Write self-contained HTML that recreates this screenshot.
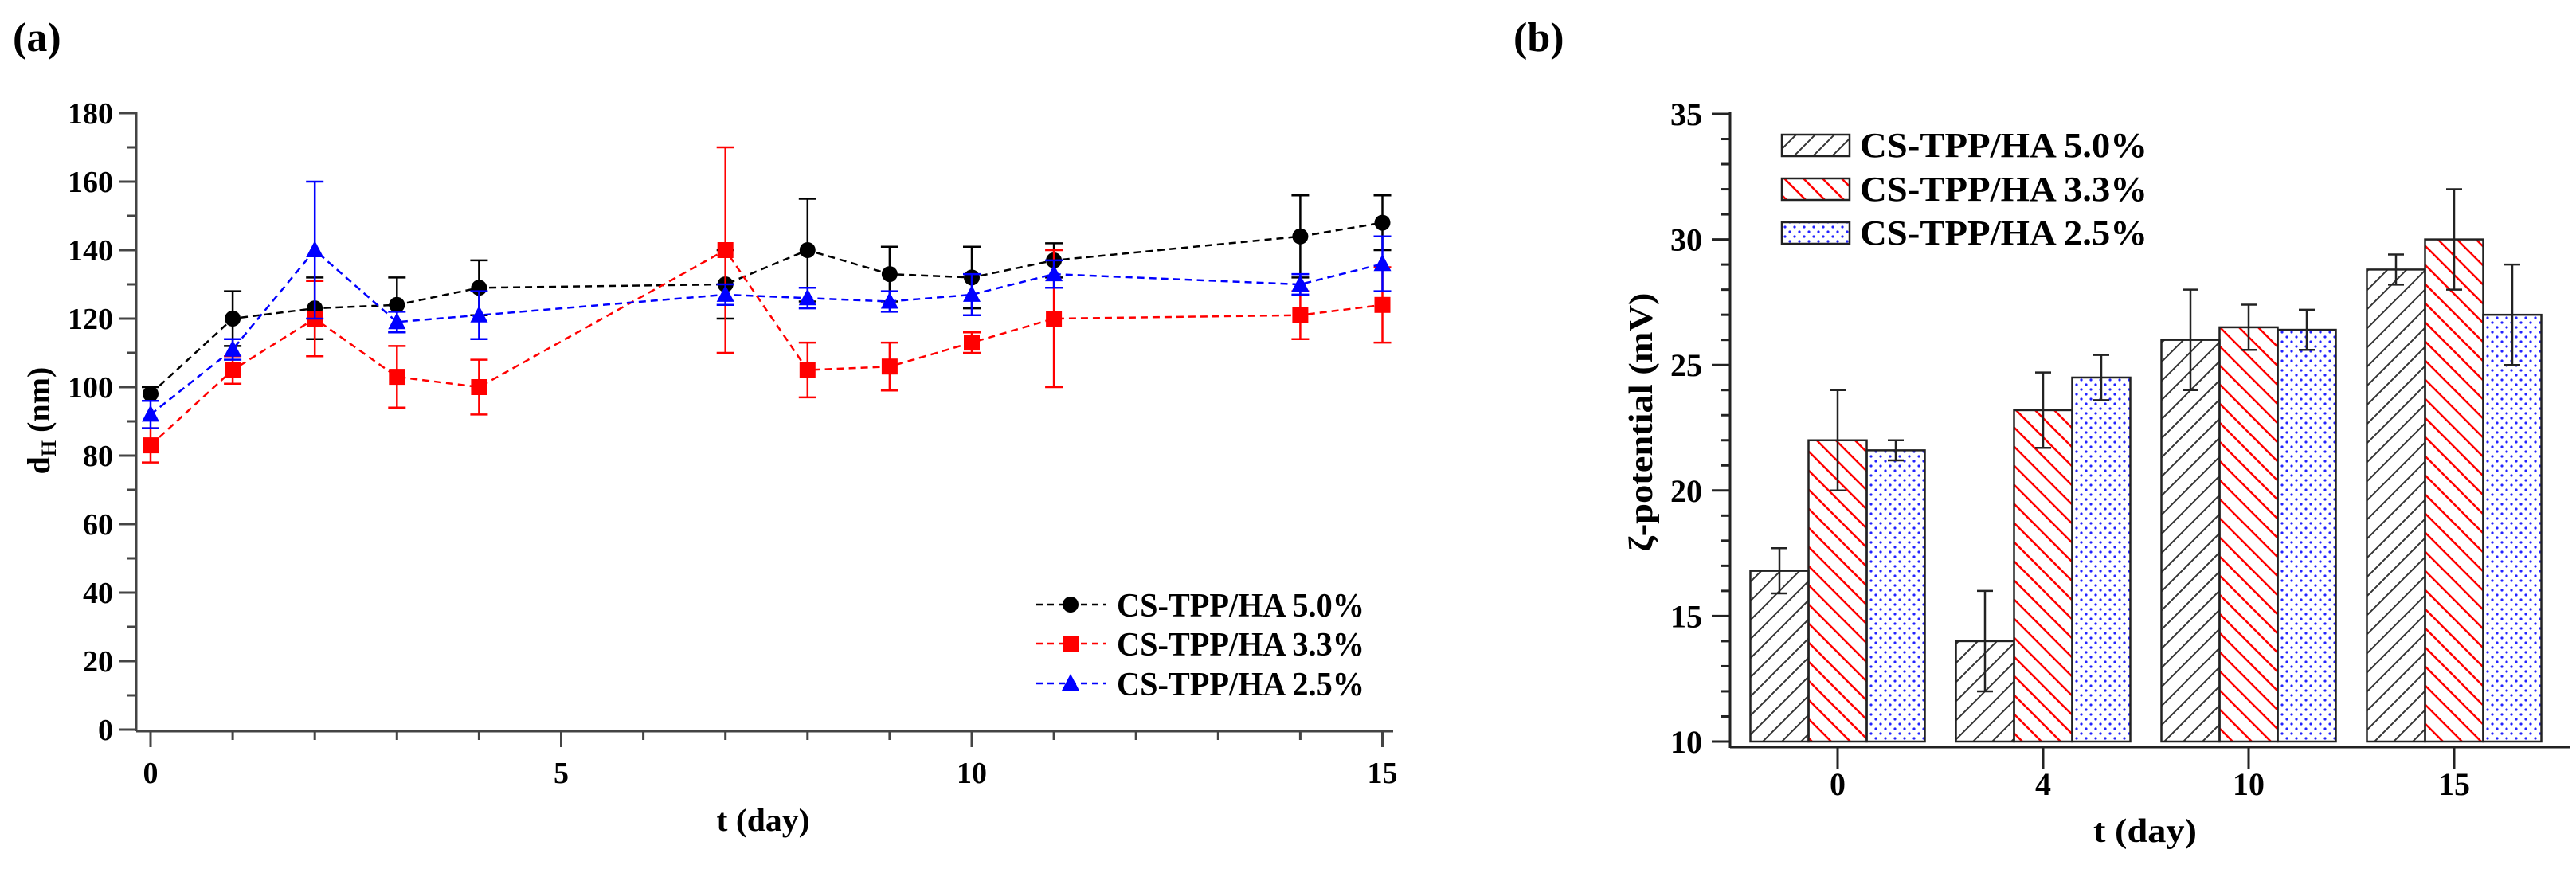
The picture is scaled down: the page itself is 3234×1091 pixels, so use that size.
<!DOCTYPE html>
<html><head><meta charset="utf-8"><style>
html,body{margin:0;padding:0;background:#fff;}
svg{display:block;font-family:"Liberation Serif",serif;font-weight:bold;}
</style></head><body>
<svg id="fig" width="3234" height="1091" viewBox="0 0 3234 1091" xmlns="http://www.w3.org/2000/svg">
<defs>
<pattern id="pBlack" patternUnits="userSpaceOnUse" width="24" height="24"><path d="M-6,6 L6,-6 M0,24 L24,0 M18,30 L30,18" stroke="#333" stroke-width="2"/></pattern>
<pattern id="pRed" patternUnits="userSpaceOnUse" width="24" height="24"><path d="M-6,18 L6,30 M0,0 L24,24 M18,-6 L30,6" stroke="#f00" stroke-width="2.5"/></pattern>
<pattern id="pBlue" patternUnits="userSpaceOnUse" width="12" height="12"><circle cx="3" cy="3" r="1.6" fill="#22f"/><circle cx="9" cy="9" r="1.6" fill="#22f"/></pattern>
</defs>
<text x="16" y="64" font-size="52">(a)</text>
<text x="1900" y="64" font-size="52">(b)</text>
<g id="ga"></g>
<g id="gb"></g>
</svg>
<script>
// Panel (a) data
const aDays = [0,1,2,3,4,7,8,9,10,11,14,15];
const a50 = [98,120,123,124,129,130,140,133,132,137,144,148];
const a50err = [2,8,9,8,8,10,15,8,9,5,12,8];
const a33 = [83,105,120,103,100,140,105,106,113,120,121,124];
const a33err = [5,4,11,9,8,30,8,7,3,20,7,11];
const a25 = [92,111,140,119,121,127,126,125,127,133,130,136];
const a25err = [4,3,20,3,7,3,3,3,6,4,3,8];
const aYTicks = [0,20,40,60,80,100,120,140,160,180];
const aXTicks = [0,5,10,15];
const seriesNames = ["CS-TPP/HA 5.0%","CS-TPP/HA 3.3%","CS-TPP/HA 2.5%"];
// Panel (b) data
const bCats = ["0","4","10","15"];
const b50 = [16.8,14.0,26.0,28.8];
const b50err = [0.9,2.0,2.0,0.6];
const b33 = [22.0,23.2,26.5,30.0];
const b33err = [2.0,1.5,0.9,2.0];
const b25 = [21.6,24.5,26.4,27.0];
const b25err = [0.4,0.9,0.8,2.0];
const bYTicks = [10,15,20,25,30,35];

const NS="http://www.w3.org/2000/svg";
function mk(tag,attrs,parent){const e=document.createElementNS(NS,tag);for(const k in attrs)e.setAttribute(k,attrs[k]);parent.appendChild(e);return e;}

// ---------- Panel a ----------
const ga=document.getElementById('ga');
const ax=d=>189+d*103.1;
const ay=v=>916-v*(774/180);
let e;
e=mk('line',{x1:171,y1:140,x2:171,y2:918,stroke:'#444','stroke-width':3},ga);


e=mk('line',{x1:171,y1:918,x2:1749,y2:918,stroke:'#444','stroke-width':3},ga);


for(let v=0;v<=180;v+=10){
  const major=v%20===0;
  mk('line',{x1:major?150:159,y1:ay(v),x2:171,y2:ay(v),stroke:'#444','stroke-width':3},ga);
}
aYTicks.forEach(v=>{
  e=mk('text',{x:142,y:ay(v)+13,'font-size':38,'text-anchor':'end'},ga);e.textContent=v;
  
  
});
for(let d=0;d<=15;d++){
  const major=d%5===0;
  mk('line',{x1:ax(d),y1:918,x2:ax(d),y2:major?938:929,stroke:'#444','stroke-width':3},ga);
}
aXTicks.forEach(d=>{
  e=mk('text',{x:ax(d),y:983,'font-size':38,'text-anchor':'middle'},ga);e.textContent=d;
  
  
});
e=mk('text',{x:958,y:1043,'font-size':40,'text-anchor':'middle',textLength:117,lengthAdjust:'spacingAndGlyphs'},ga);e.textContent='t (day)';


e=mk('text',{x:0,y:0,'font-size':40,'text-anchor':'middle',transform:'translate(62,528) rotate(-90)'},ga);
e.innerHTML='d<tspan font-size="26" dy="8">H</tspan><tspan dy="-8"> (nm)</tspan>';



const aSeries=[[a50,a50err,'#000','circle'],[a33,a33err,'#f00','square'],[a25,a25err,'#00f','triangle']];
function marker(shape,x,y,col,parent){
  if(shape==='circle')return mk('circle',{cx:x,cy:y,r:10,fill:col},parent);
  if(shape==='square')return mk('rect',{x:x-10,y:y-10,width:20,height:20,fill:col},parent);
  return mk('polygon',{points:`${x},${y-12} ${x-11},${y+9} ${x+11},${y+9}`,fill:col},parent);
}
aSeries.forEach((s,si)=>{
  const [vals,errs,col,shape]=s;
  const g=mk('g',{},ga);
  
  
  const pts=aDays.map((d,i)=>ax(d)+','+ay(vals[i])).join(' ');
  e=mk('polyline',{points:pts,fill:'none',stroke:col,'stroke-width':2.5,'stroke-dasharray':'9,6'},g);
  
  
  aDays.forEach((d,i)=>{
    const x=ax(d),y1=ay(vals[i]+errs[i]),y2=ay(vals[i]-errs[i]);
    e=mk('path',{d:`M${x},${y1}V${y2}M${x-11},${y1}H${x+11}M${x-11},${y2}H${x+11}`,stroke:col,'stroke-width':2.5,fill:'none'},g);
    
    
    e=marker(shape,x,ay(vals[i]),col,g);
    
    
  });
});
// legend a
const lg=mk('g',{},ga);


const lrows=[759,808,858];
aSeries.forEach((s,i)=>{
  const y=lrows[i];
  mk('line',{x1:1301,y1:y,x2:1389,y2:y,stroke:s[2],'stroke-width':2.5,'stroke-dasharray':'8,6'},lg);
  marker(s[3],1344,y,s[2],lg);
  e=mk('text',{x:1402,y:y+15,'font-size':42,textLength:311,lengthAdjust:'spacingAndGlyphs'},lg);e.textContent=seriesNames[i];
  
  
});

// ---------- Panel b ----------
const gb=document.getElementById('gb');
const by=v=>931-(v-10)*31.52;
const bx=i=>2307+i*258;
const bw=73;
e=mk('line',{x1:2172,y1:141,x2:2172,y2:939,stroke:'#222','stroke-width':3},gb);


e=mk('line',{x1:2172,y1:938,x2:3226,y2:938,stroke:'#222','stroke-width':3},gb);


for(let v=10;v<=35;v++){
  const major=v%5===0;
  mk('line',{x1:major?2149:2160,y1:by(v),x2:2172,y2:by(v),stroke:'#222','stroke-width':3},gb);
}
bYTicks.forEach(v=>{
  e=mk('text',{x:2137,y:by(v)+14,'font-size':40,'text-anchor':'end'},gb);e.textContent=v;
  
  
});
e=mk('text',{x:0,y:0,'font-size':42,'text-anchor':'middle',transform:'translate(2074,530) rotate(-90)',textLength:325,lengthAdjust:'spacingAndGlyphs'},gb);
e.textContent='ζ-potential (mV)';


e=mk('text',{x:2693,y:1057,'font-size':42,'text-anchor':'middle',textLength:130,lengthAdjust:'spacingAndGlyphs'},gb);e.textContent='t (day)';


const bSeries=[[b50,b50err,'url(#pBlack)'],[b33,b33err,'url(#pRed)'],[b25,b25err,'url(#pBlue)']];
bCats.forEach((c,i)=>{
  mk('line',{x1:bx(i),y1:938,x2:bx(i),y2:966,stroke:'#222','stroke-width':3},gb);
  e=mk('text',{x:bx(i),y:998,'font-size':40,'text-anchor':'middle'},gb);e.textContent=c;
  
  
});
bSeries.forEach((s,si)=>{
  const [vals,errs,fill]=s;
  vals.forEach((v,i)=>{
    const x=bx(i)+(si-1)*bw-bw/2;
    e=mk('rect',{x:x,y:by(v),width:bw,height:by(10)-by(v),fill:fill,stroke:'#222','stroke-width':2.5},gb);
    
    
    const cx=x+bw/2,y1=by(v+errs[i]),y2=by(v-errs[i]);
    e=mk('path',{d:`M${cx},${y1}V${y2}M${cx-10},${y1}H${cx+10}M${cx-10},${y2}H${cx+10}`,stroke:'#222','stroke-width':2.5,fill:'none'},gb);
    
    
  });
});
const lb=mk('g',{},gb);


const brows=[169,224,279];
bSeries.forEach((s,i)=>{
  mk('rect',{x:2237,y:brows[i],width:85,height:27,fill:s[2],stroke:'#222','stroke-width':2.5},lb);
  e=mk('text',{x:2335,y:brows[i]+28,'font-size':44,textLength:361,lengthAdjust:'spacingAndGlyphs'},lb);e.textContent=seriesNames[i];
  
  
});
</script>
</body></html>
